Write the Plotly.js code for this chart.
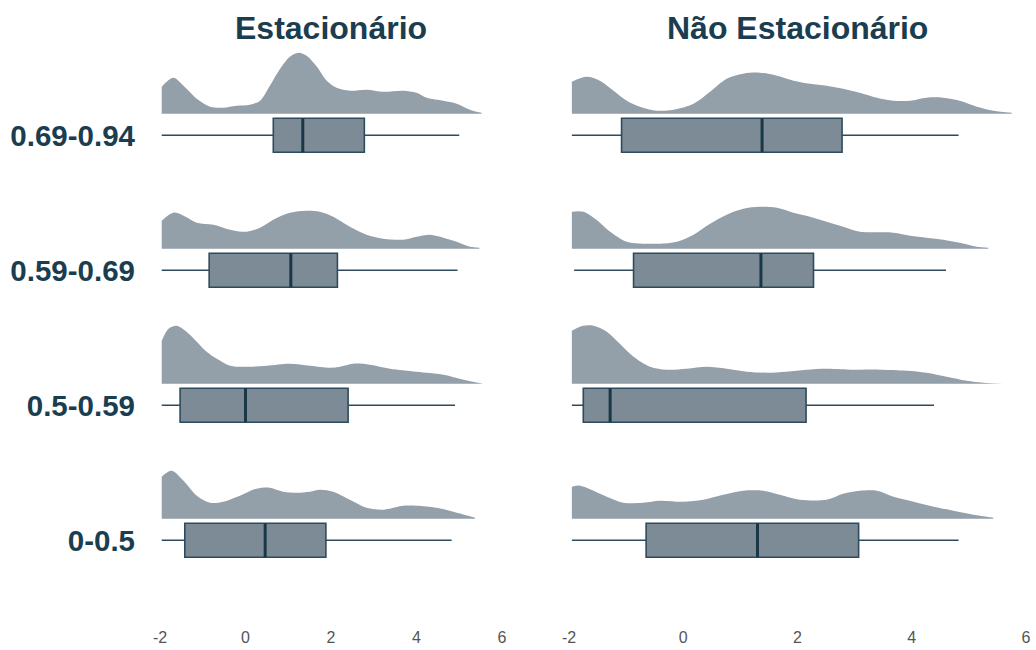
<!DOCTYPE html>
<html>
<head>
<meta charset="utf-8">
<script src="https://cdn.plot.ly/plotly-3.0.1.min.js"></script>
<style>
  html, body { margin: 0; padding: 0; background: #ffffff; }
  #chart { width: 1036px; height: 650px; }
</style>
</head>
<body>
<div id="chart"></div>
<script>
// Row categories, bottom to top
const categories = ['0-0.5', '0.5-0.59', '0.59-0.69', '0.69-0.94'];
const panelTitles = ['Estacionário', 'Não Estacionário'];
const xTicks = [-2, 0, 2, 4, 6];

// Box summaries — Estacionário
const estLower  = [-1.96, -1.96, -1.96, -1.96];
const estQ1     = [-1.42, -1.53, -0.85, 0.65];
const estMedian = [0.46, 0.00, 1.06, 1.34];
const estQ3     = [1.88, 2.40, 2.15, 2.78];
const estUpper  = [4.82, 4.90, 4.96, 5.00];

// Box summaries — Não Estacionário
const nestLower  = [-1.95, -1.95, -1.91, -1.95];
const nestQ1     = [-0.65, -1.75, -0.87, -1.08];
const nestMedian = [1.30, -1.28, 1.36, 1.38];
const nestQ3     = [3.07, 2.15, 2.28, 2.78];
const nestUpper  = [4.82, 4.39, 4.60, 4.82];

// Density estimates — Estacionário
const est0X = [-1.96,-1.73,-1.45,-1.14,-0.83,-0.52,-0.13,0.26,0.57,0.88,1.20,1.51,1.74,2.05,2.44,2.83,3.22,3.69,4.00,4.47,4.94,5.37];
const est0D = [0.42,0.48,0.38,0.23,0.16,0.17,0.23,0.30,0.31,0.27,0.26,0.27,0.29,0.27,0.19,0.11,0.09,0.13,0.13,0.11,0.06,0.01];
const est1X = [-1.96,-1.80,-1.61,-1.38,-1.14,-0.91,-0.67,-0.36,0.11,0.50,1.04,1.51,1.98,2.21,2.52,2.91,3.38,4.00,4.63,5.10,5.56];
const est1D = [0.43,0.55,0.58,0.52,0.42,0.32,0.25,0.18,0.17,0.18,0.20,0.18,0.16,0.17,0.20,0.19,0.15,0.12,0.09,0.04,0.00];
const est2X = [-1.96,-1.69,-1.45,-1.14,-0.75,-0.36,0.03,0.34,0.65,1.04,1.43,1.74,2.05,2.44,2.83,3.22,3.69,4.00,4.32,4.63,4.94,5.25,5.47];
const est2D = [0.28,0.36,0.33,0.26,0.24,0.19,0.17,0.21,0.29,0.36,0.38,0.37,0.32,0.22,0.14,0.10,0.09,0.12,0.14,0.11,0.07,0.02,0.01];
const est3X = [-1.96,-1.69,-1.45,-1.14,-0.83,-0.52,-0.21,0.10,0.34,0.57,0.81,1.04,1.24,1.43,1.67,1.90,2.13,2.44,2.83,3.22,3.69,4.00,4.24,4.63,4.94,5.25,5.52];
const est3D = [0.27,0.36,0.28,0.15,0.07,0.06,0.08,0.09,0.13,0.28,0.45,0.57,0.61,0.58,0.47,0.33,0.26,0.23,0.24,0.22,0.23,0.21,0.16,0.13,0.10,0.04,0.01];

// Density estimates — Não Estacionário
const nest0X = [-1.95,-1.81,-1.57,-1.34,-1.05,-0.70,-0.41,0.00,0.35,0.70,1.05,1.40,1.69,2.04,2.51,2.80,3.09,3.39,3.68,4.03,4.38,4.73,5.08,5.43];
const nest0D = [0.32,0.33,0.28,0.22,0.16,0.16,0.18,0.17,0.19,0.24,0.28,0.28,0.24,0.19,0.19,0.25,0.28,0.28,0.22,0.17,0.12,0.08,0.04,0.01];
const nest1X = [-1.95,-1.75,-1.57,-1.34,-1.11,-0.87,-0.58,-0.29,0.06,0.41,0.76,1.11,1.46,1.81,2.16,2.51,2.98,3.44,3.91,4.26,4.61,4.96,5.25,5.60];
const nest1D = [0.53,0.58,0.58,0.52,0.40,0.27,0.17,0.14,0.15,0.17,0.15,0.12,0.11,0.12,0.14,0.15,0.14,0.14,0.13,0.11,0.07,0.03,0.01,0.00];
const nest2X = [-1.95,-1.75,-1.52,-1.28,-0.99,-0.70,-0.41,-0.11,0.18,0.47,0.76,1.05,1.34,1.64,1.93,2.22,2.51,2.80,3.09,3.68,3.97,4.26,4.55,4.84,5.14,5.34];
const nest2D = [0.37,0.37,0.29,0.17,0.07,0.05,0.05,0.07,0.14,0.25,0.34,0.40,0.42,0.41,0.36,0.32,0.27,0.22,0.17,0.16,0.13,0.11,0.09,0.06,0.02,0.01];
const nest3X = [-1.95,-1.69,-1.46,-1.22,-0.99,-0.76,-0.46,-0.17,0.18,0.47,0.76,1.05,1.34,1.64,1.93,2.22,2.51,2.80,3.09,3.39,3.68,3.97,4.26,4.55,4.84,5.14,5.43,5.75];
const nest3D = [0.32,0.37,0.33,0.23,0.13,0.07,0.03,0.04,0.10,0.22,0.35,0.40,0.41,0.38,0.33,0.30,0.28,0.25,0.21,0.16,0.13,0.13,0.16,0.16,0.13,0.07,0.03,0.01];

// Styling / geometry
const DENSITY_FILL = '#939fa9';
const BOX_FILL = '#7c8b95';
const BOX_LINE = '#2e4b5d';
const MEDIAN_LINE = '#1a3747';
const TEXT_DARK = '#1b3d50';
const BOX_HALF = 0.126;      // half box height, in row units
const DENS_OFFSET = 0.16;    // density baseline above row centre
const DENS_SCALE = 0.74;     // density value -> row units

const panels = [
  { xaxis: 'x',  densX: [est0X, est1X, est2X, est3X], densD: [est0D, est1D, est2D, est3D],
    lower: estLower, q1: estQ1, median: estMedian, q3: estQ3, upper: estUpper },
  { xaxis: 'x2', densX: [nest0X, nest1X, nest2X, nest3X], densD: [nest0D, nest1D, nest2D, nest3D],
    lower: nestLower, q1: nestQ1, median: nestMedian, q3: nestQ3, upper: nestUpper }
];

const rowPos = categories.map((c, i) => i);
const traces = [];

panels.forEach(p => {
  // Half-density ridges above each box
  rowPos.forEach(r => {
    const xs = p.densX[r];
    const base = r + DENS_OFFSET;
    traces.push({
      type: 'scatter', mode: 'lines', xaxis: p.xaxis, yaxis: 'y',
      x: [xs[0], xs[xs.length - 1]], y: [base, base],
      line: { width: 0 }, hoverinfo: 'skip', showlegend: false
    });
    traces.push({
      type: 'scatter', mode: 'lines', xaxis: p.xaxis, yaxis: 'y',
      x: xs, y: p.densD[r].map(v => base + v * DENS_SCALE),
      line: { width: 0, shape: 'spline', smoothing: 0.9 },
      fill: 'tonexty', fillcolor: DENSITY_FILL,
      hoverinfo: 'skip', showlegend: false
    });
  });

  // Box plots from the summary statistics
  traces.push({
    type: 'box', orientation: 'h', xaxis: p.xaxis, yaxis: 'y',
    y: rowPos, q1: p.q1, median: p.median, q3: p.q3,
    lowerfence: p.lower, upperfence: p.upper,
    width: BOX_HALF * 2, whiskerwidth: 0, boxpoints: false,
    fillcolor: BOX_FILL, line: { color: BOX_LINE, width: 1.6 },
    hoverinfo: 'skip', showlegend: false
  });

  // Heavier median strokes
  const mx = [], my = [];
  rowPos.forEach(r => {
    mx.push(p.median[r], p.median[r], null);
    my.push(r - BOX_HALF, r + BOX_HALF, null);
  });
  traces.push({
    type: 'scatter', mode: 'lines', xaxis: p.xaxis, yaxis: 'y',
    x: mx, y: my, line: { color: MEDIAN_LINE, width: 3 },
    hoverinfo: 'skip', showlegend: false
  });
});

const W = 1036, H = 650;
const xDom1 = [160 / W, 502 / W];
const xDom2 = [569 / W, 1026 / W];

const xAxisBase = {
  range: [-2, 6], tickvals: xTicks, ticktext: xTicks.map(String),
  showgrid: false, zeroline: false, showline: false, ticks: '',
  ticklabelstandoff: 2,
  fixedrange: true, automargin: false,
  tickfont: { family: 'Liberation Sans Narrow, Arial Narrow, Liberation Sans, Arial', size: 16, color: '#555555' }
};

// Row spacing of 135 px: y = 0 sits at 540 px from the top
const Y_RANGE = [-0.62, 3.7];
const yBottomPx = 540.25 + 0.62 * 135;
const yTopPx = 540.25 - 3.7 * 135;

const layout = {
  width: W, height: H,
  margin: { l: 0, r: 0, t: 0, b: 0 },
  paper_bgcolor: '#ffffff', plot_bgcolor: '#ffffff',
  showlegend: false,
  xaxis: Object.assign({}, xAxisBase, { domain: xDom1, anchor: 'y' }),
  xaxis2: Object.assign({}, xAxisBase, { domain: xDom2, anchor: 'y' }),
  yaxis: {
    domain: [(H - yBottomPx) / H, (H - yTopPx) / H], range: Y_RANGE,
    tickvals: rowPos, ticktext: categories,
    showgrid: false, zeroline: false, showline: false, ticks: '',
    ticklabelstandoff: 24, automargin: false, fixedrange: true,
    tickfont: { family: 'Liberation Sans, Arial, sans-serif', size: 29.5, weight: 'bold', color: TEXT_DARK }
  },
  annotations: panelTitles.map((t, i) => {
    const d = i === 0 ? xDom1 : xDom2;
    return {
      text: t, xref: 'paper', yref: 'paper',
      x: (d[0] + d[1]) / 2, y: (H - 28) / H,
      xanchor: 'center', yanchor: 'middle', showarrow: false,
      font: { family: 'Liberation Sans, Arial, sans-serif', size: 32, weight: 'bold', color: TEXT_DARK }
    };
  })
};

Plotly.newPlot('chart', traces, layout, { displayModeBar: false, staticPlot: true });
</script>
</body>
</html>
